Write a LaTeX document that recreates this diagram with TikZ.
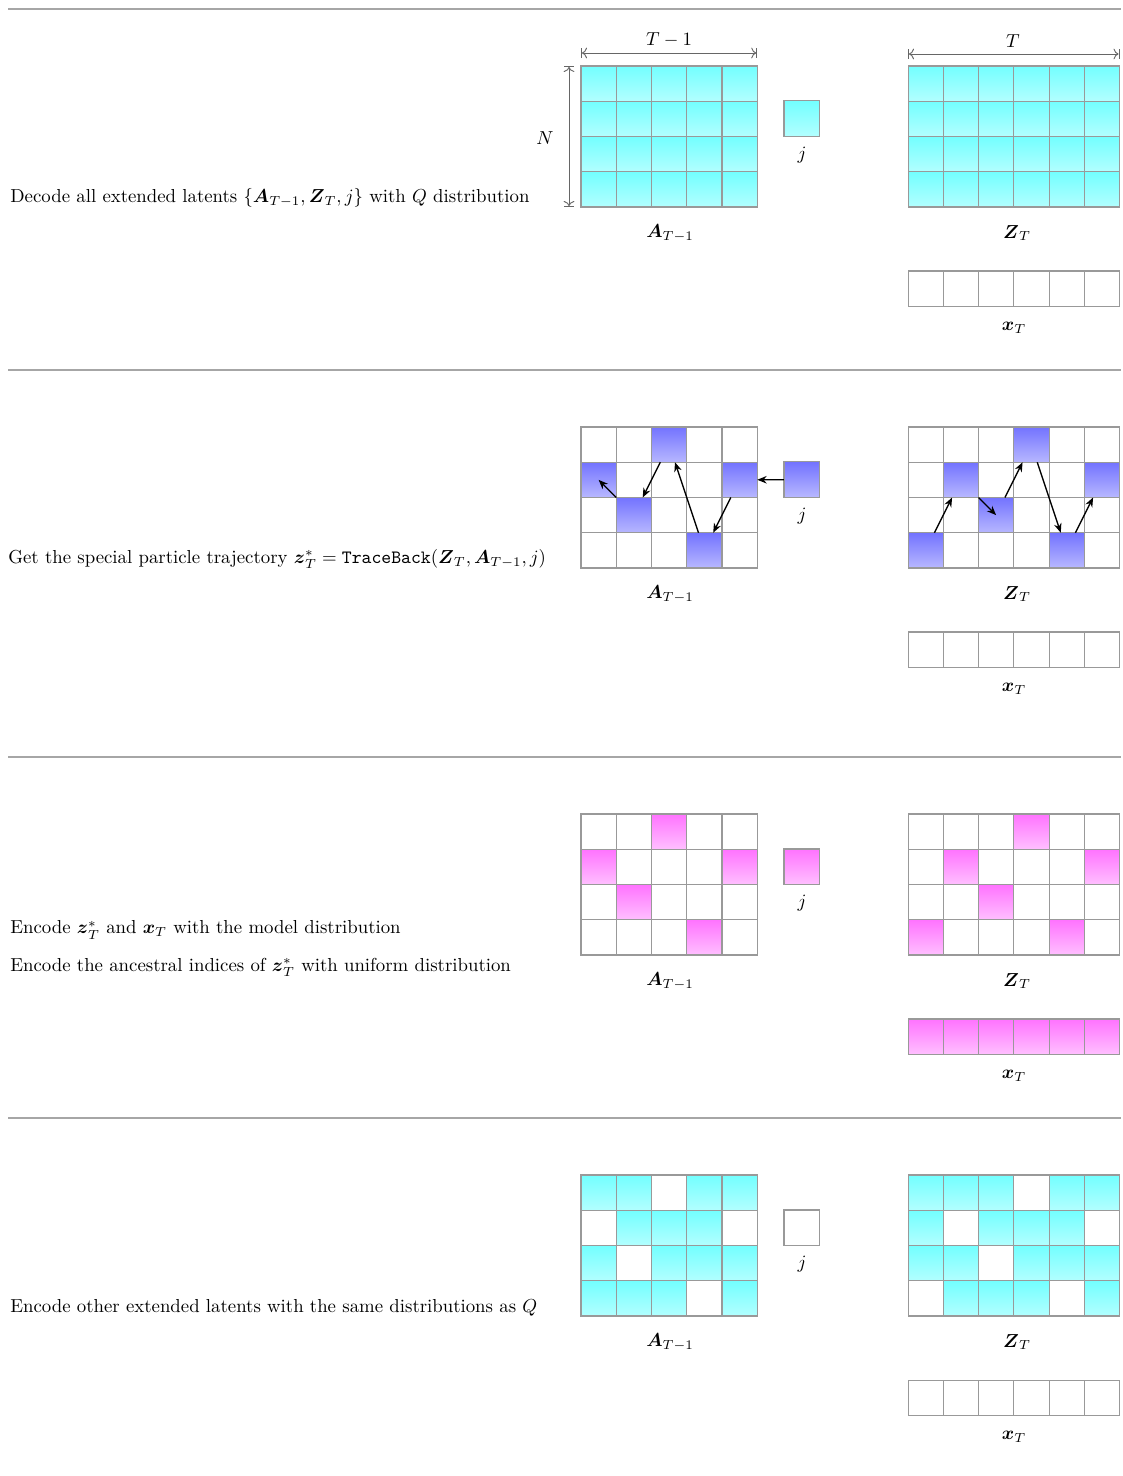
\documentclass[tikz,border=0pt]{standalone}
\usepackage{amsmath}
\usetikzlibrary{arrows.meta}
\newcommand\markset[2]{\expandafter\def\csname #1-#2\endcsname{}}
% special particle positions
\markset{sA}{0-2}\markset{sA}{1-0}\markset{sA}{1-4}\markset{sA}{2-1}\markset{sA}{3-3}
\markset{sZ}{0-3}\markset{sZ}{1-1}\markset{sZ}{1-5}\markset{sZ}{2-2}\markset{sZ}{3-0}\markset{sZ}{3-4}
\markset{sX}{0-0}\markset{sX}{0-1}\markset{sX}{0-2}\markset{sX}{0-3}\markset{sX}{0-4}\markset{sX}{0-5}
\newcommand\mygrid[8]{%
  \foreach \r in {0,...,#5}{\foreach \c in {0,...,#4}{%
    \ifcsname #6-\r-\c\endcsname\tikzset{thiscell/.style={#7}}\else\tikzset{thiscell/.style={#8}}\fi
    \node[cell,thiscell] (#1-\r-\c) at ({#2+(\c+0.5)*35.25},{#3+(\r+0.5)*35.25}) {};
  }}}
\begin{document}
\begin{tikzpicture}[x=0.532pt,y=-0.532pt,
  cell/.style={draw=black!40,line width=0.55pt,minimum width=18.75pt,minimum height=18.75pt,inner sep=0pt,outer sep=0pt},
  cyanc/.style={top color=cyan!55,bottom color=cyan!30},
  bluec/.style={top color=blue!55,bottom color=blue!28},
  magc/.style={top color=magenta!55,bottom color=magenta!25},
  whitec/.style={fill=white},
  sep/.style={draw=black!35,line width=1pt},
  dim/.style={draw=black!60,line width=0.5pt,|<->|},
  arr/.style={-{Stealth[length=5pt,width=4pt]},line width=0.7pt,black},
  lbl/.style={inner sep=0pt},
  desc/.style={anchor=west,inner sep=0pt}]
\useasboundingbox (0,0) rectangle (1122,1476);

% separators
\foreach \y [count=\i] in {9,370,757,1118}{
  \coordinate (sl\i) at (8,\y); \coordinate (sr\i) at (1121,\y);
  \draw[sep] (sl\i) -- (sr\i);
}

% ---------------- Panel 1 ----------------
\mygrid{p1a}{581}{66}{4}{3}{none}{cyanc}{cyanc}
\mygrid{p1z}{908}{66}{5}{3}{none}{cyanc}{cyanc}
\mygrid{p1x}{908}{271}{5}{0}{none}{whitec}{whitec}
\node[cell,cyanc] (p1j) at (801.6,118.6) {};
\node[lbl] (p1jl) at (802,155) {$j$};
\node[lbl] (p1al) at (670,233) {$\boldsymbol{A}_{T-1}$};
\node[lbl] (p1zl) at (1017,233) {$\boldsymbol{Z}_T$};
\node[lbl] (p1xl) at (1014,328) {$\boldsymbol{x}_T$};
\coordinate (dA1) at (581,53); \coordinate (dA2) at (757.25,53);
\draw[dim] (dA1) -- (dA2);
\node[lbl] (tm1) at (669,40) {$T-1$};
\coordinate (dZ1) at (908,54); \coordinate (dZ2) at (1119.5,54);
\draw[dim] (dZ1) -- (dZ2);
\node[lbl] (tt) at (1013,41) {$T$};
\coordinate (dN1) at (569,66); \coordinate (dN2) at (569,207);
\draw[dim] (dN1) -- (dN2);
\node[lbl] (nn) at (545,138) {$N$};
\node[desc] (t1) at (10,198) {Decode all extended latents $\{\boldsymbol{A}_{T-1},\boldsymbol{Z}_T,j\}$ with $Q$ distribution};

% ---------------- Panel 2 ----------------
\mygrid{p2a}{581}{427}{4}{3}{sA}{bluec}{whitec}
\mygrid{p2z}{908}{427}{5}{3}{sZ}{bluec}{whitec}
\mygrid{p2x}{908}{632}{5}{0}{none}{whitec}{whitec}
\node[cell,bluec] (p2j) at (801.6,479.6) {};
\node[lbl] (p2jl) at (802,516) {$j$};
\node[lbl] (p2al) at (670,594) {$\boldsymbol{A}_{T-1}$};
\node[lbl] (p2zl) at (1017,594) {$\boldsymbol{Z}_T$};
\node[lbl] (p2xl) at (1014,689) {$\boldsymbol{x}_T$};
\node[desc] (t2) at (8,559) {Get the special particle trajectory $\boldsymbol{z}_T^{*}=\texttt{TraceBack}(\boldsymbol{Z}_T,\boldsymbol{A}_{T-1},j)$};
\draw[arr] (p2j) -- (p2a-1-4);
\draw[arr] (p2a-1-4) -- (p2a-3-3);
\draw[arr] (p2a-3-3) -- (p2a-0-2);
\draw[arr] (p2a-0-2) -- (p2a-2-1);
\draw[arr] (p2a-2-1.north west) -- (p2a-1-0.center);
\draw[arr] (p2z-3-0) -- (p2z-1-1);
\draw[arr] (p2z-1-1.south east) -- (p2z-2-2.center);
\draw[arr] (p2z-2-2) -- (p2z-0-3);
\draw[arr] (p2z-0-3) -- (p2z-3-4);
\draw[arr] (p2z-3-4) -- (p2z-1-5);

% ---------------- Panel 3 ----------------
\mygrid{p3a}{581}{814}{4}{3}{sA}{magc}{whitec}
\mygrid{p3z}{908}{814}{5}{3}{sZ}{magc}{whitec}
\mygrid{p3x}{908}{1019}{5}{0}{sX}{magc}{whitec}
\node[cell,magc] (p3j) at (801.6,866.6) {};
\node[lbl] (p3jl) at (802,903) {$j$};
\node[lbl] (p3al) at (670,981) {$\boldsymbol{A}_{T-1}$};
\node[lbl] (p3zl) at (1017,981) {$\boldsymbol{Z}_T$};
\node[lbl] (p3xl) at (1014,1076) {$\boldsymbol{x}_T$};
\node[desc] (t3a) at (10,930) {Encode $\boldsymbol{z}_T^{*}$ and $\boldsymbol{x}_T$ with the model distribution};
\node[desc] (t3b) at (10,967) {Encode the ancestral indices of $\boldsymbol{z}_T^{*}$ with uniform distribution};

% ---------------- Panel 4 ----------------
\mygrid{p4a}{581}{1175}{4}{3}{sA}{whitec}{cyanc}
\mygrid{p4z}{908}{1175}{5}{3}{sZ}{whitec}{cyanc}
\mygrid{p4x}{908}{1380}{5}{0}{none}{whitec}{whitec}
\node[cell,whitec] (p4j) at (801.6,1227.6) {};
\node[lbl] (p4jl) at (802,1264) {$j$};
\node[lbl] (p4al) at (670,1342) {$\boldsymbol{A}_{T-1}$};
\node[lbl] (p4zl) at (1017,1342) {$\boldsymbol{Z}_T$};
\node[lbl] (p4xl) at (1014,1437) {$\boldsymbol{x}_T$};
\node[desc] (t4) at (10,1308) {Encode other extended latents with the same distributions as $Q$};
\end{tikzpicture}
\end{document}
